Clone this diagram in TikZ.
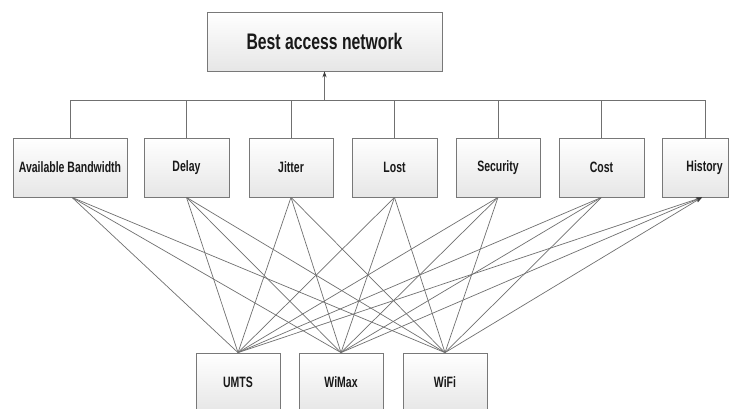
\documentclass[tikz,border=0pt]{standalone}
\usepackage{fontspec}
\setmainfont{Liberation Sans}[FakeStretch=0.70]
\usetikzlibrary{arrows.meta,shadows,calc}
\definecolor{linec}{RGB}{112,112,112}
\definecolor{boxline}{RGB}{120,120,120}
\definecolor{boxbot}{RGB}{230,230,230}
\definecolor{tipc}{RGB}{60,60,60}
\tikzset{
  box/.style={draw=boxline, line width=0.8pt, top color=white, bottom color=boxbot,
    drop shadow={shadow xshift=1pt, shadow yshift=-1pt, opacity=0.35},
    minimum height=59pt, inner xsep=2pt, text=black!90, font=\bfseries\fontsize{15}{17}\selectfont},
  conn/.style={draw=linec, line width=0.7pt},
  tip/.style={-{Stealth[length=6pt,width=4.2pt,color=tipc]}}
}
\begin{document}
\begin{tikzpicture}[x=1pt,y=-1pt]
\useasboundingbox (0,0) rectangle (736,409);
\clip (0,0) rectangle (736,409);
\fill[white] (0,0) rectangle (736,409);
% top
\node[box, minimum width=235pt, font=\bfseries\fontsize{22.5}{25}\selectfont] (best) at (324.5,41.5) {Best access network};
% middle row
\node[box, minimum width=114pt] (ab) at (70,167.5) {Available Bandwidth};
\node[box, minimum width=85pt] (delay) at (186.5,167.5) {Delay};
\node[box, minimum width=84pt] (jitter) at (291,167.5) {Jitter};
\node[box, minimum width=85pt] (lost) at (394.5,167.5) {Lost};
\node[box, minimum width=84pt] (sec) at (498,167.5) {Security};
\node[box, minimum width=85pt] (cost) at (601.5,167.5) {Cost};
\node[box, minimum width=66pt] (hist) at (695,167.5) {\hspace*{19pt}History};
% bottom row
\node[box, minimum width=84pt] (umts) at (238,382.5) {UMTS};
\node[box, minimum width=84pt] (wimax) at (341,382.5) {WiMax};
\node[box, minimum width=84pt] (wifi) at (445,382.5) {WiFi};
% anchors
\coordinate (bus) at (0,100);
\coordinate (histtop) at ($(hist.north)+(10,0)$);
\coordinate (histbot) at ($(hist.south)+(7,0)$);
\coordinate (abbot) at ($(ab.south)+(2,0)$);
% bus
\draw[conn] (ab.north) -- (ab.north |- bus) -- (histtop |- bus) -- (histtop);
\foreach \n in {delay,jitter,lost,sec,cost}
  \draw[conn] (\n.north) -- (\n.north |- bus);
\draw[conn, tip] (best.south |- bus) -- (best.south);
% cross connections
\foreach \b in {umts,wimax,wifi}{
  \draw[conn] (\b.north) -- (abbot);
  \foreach \m in {delay,jitter,lost,sec,cost}
    \draw[conn] (\b.north) -- (\m.south);
  \draw[conn, tip] (\b.north) -- (histbot);
}
\end{tikzpicture}
\end{document}
